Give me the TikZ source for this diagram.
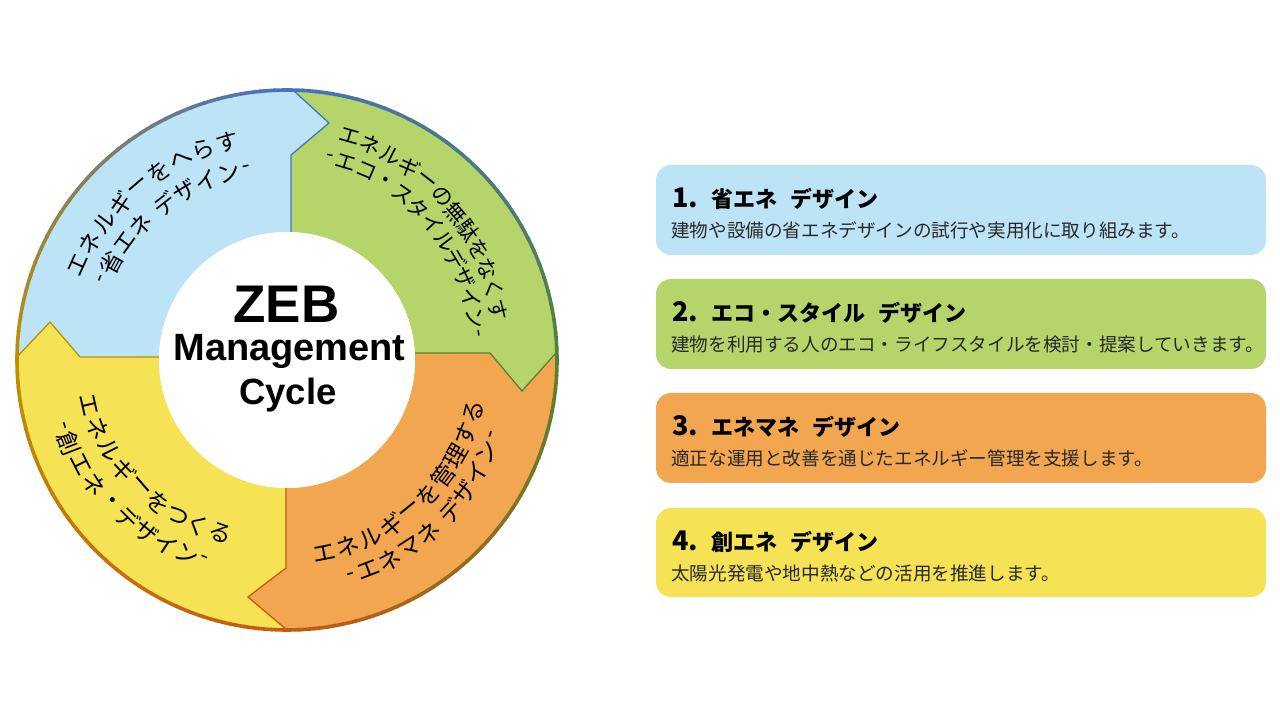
\documentclass[tikz,border=0pt]{standalone}
\usepackage{fontspec}
\newfontfamily\jp{Noto Sans CJK JP}
\newfontfamily\ls{Liberation Sans}
\definecolor{lblue}{RGB}{189,227,247}
\definecolor{lgreen}{RGB}{181,213,107}
\definecolor{lorange}{RGB}{243,166,80}
\definecolor{lyellow}{RGB}{245,226,85}
\definecolor{dblue}{RGB}{68,114,196}
\definecolor{dgreen}{RGB}{84,130,53}
\definecolor{dorange}{RGB}{197,90,17}
\definecolor{dgold}{RGB}{191,144,0}
\definecolor{desc}{RGB}{40,40,40}
\tikzset{
  ringtext/.style={inner sep=0pt, text=black},
  edgeline/.style={line width=1.3pt, line join=miter},
  card/.style={rounded corners=15pt},
  cardnum/.style={anchor=base west, inner sep=0pt, font=\jp\bfseries\fontsize{27}{27}\selectfont},
  cardtitle/.style={anchor=base west, inner sep=0pt, font=\jp\bfseries\fontsize{22}{22}\selectfont},
  carddesc/.style={anchor=base west, inner sep=0pt, text=desc, font=\jp\fontsize{18.6}{18.6}\selectfont},
  hubtext/.style={anchor=base, inner sep=0pt}
}
\newcommand\tgap{\hspace{0.6em}}
% #1 name prefix, #2 font size, #3 start angle, #4 deg per em, #5 start radius,
% #6 radius change per em, #7 rotation offset, #8 items char/width (negative width = gap)
\newcommand\arcline[8]{%
  \gdef\cumpos{0}%
  \foreach \c/\w [count=\k] in {#8} {%
    \ifdim\w pt<0pt
      \pgfmathsetmacro\nxt{\cumpos-\w}%
    \else
      \pgfmathsetmacro\mid{\cumpos+\w/2}%
      \pgfmathsetmacro\ang{#3+(#4)*\mid}%
      \pgfmathsetmacro\rad{#5+(#6)*\mid}%
      \pgfmathsetmacro\rot{\ang+(#7)}%
      \node[ringtext, font=\jp\fontsize{#2}{#2}\selectfont, rotate=\rot] (#1-\k) at (\ang:\rad) {\c};%
      \pgfmathsetmacro\nxt{\cumpos+\w}%
    \fi
    \xdef\cumpos{\nxt}%
  }%
}
\begin{document}
\begin{tikzpicture}[x=1pt,y=1pt]
\useasboundingbox (0,0) rectangle (1280,720);
\fill[white] (0,0) rectangle (1280,720);

\begin{scope}[shift={(287,360)}]
  % segments
  \fill[lblue] (179.36:270) arc[start angle=179.36, end angle=88.73, radius=270]
     -- (42,237) -- (4,205) -- (88.21:128) arc[start angle=88.21, end angle=178.66, radius=128]
     -- (-207,3) -- (-237,38) -- cycle;
  \fill[lgreen] (88.73:270) arc[start angle=88.73, end angle=1.70, radius=270]
     -- (235,-31) -- (203,7) -- (3.13:128) arc[start angle=3.13, end angle=88.21, radius=128]
     -- (4,205) -- (42,237) -- cycle;
  \fill[lorange] (1.70:270) arc[start angle=1.70, end angle=-90, radius=270]
     -- (-39,-237) -- (-1,-208) -- (-90.45:128) arc[start angle=-90.45, end angle=3.13, radius=128]
     -- (203,7) -- (235,-31) -- cycle;
  \fill[lyellow] (-90:270) arc[start angle=-90, end angle=-180.64, radius=270]
     -- (-237,38) -- (-207,3) -- (-181.34:128) arc[start angle=-181.34, end angle=-90.45, radius=128]
     -- (-1,-208) -- (-39,-237) -- cycle;
  % arrow edges
  \draw[edgeline, dblue] (88.21:128) -- (4,205) -- (42,237) -- (88.73:270);
  \draw[edgeline, dgreen] (3.13:128) -- (203,7) -- (235,-31) -- (1.70:270);
  \draw[edgeline, dorange] (-90.45:128) -- (-1,-208) -- (-39,-237) -- (-90:270);
  \draw[edgeline, dgold] (178.66:128) -- (-207,3) -- (-237,38) -- (179.36:270);
  % gradient outer border
  \foreach \a/\ca/\cb in {90/dblue/dgreen, 0/dgreen/dorange, -90/dorange/dgold, -180/dgold/dblue} {
    \foreach \i in {0,...,29} {
      \pgfmathtruncatemacro\p{100-(\i+0.5)*100/30}
      \pgfmathsetmacro\sa{\a-3*\i}
      \pgfmathsetmacro\ea{\a-3*\i-3.4}
      \draw[line width=3.6pt, color=\ca!\p!\cb] (\sa:270) arc[start angle=\sa, end angle=\ea, radius=270];
    }
  }
  % hub
  \node[circle, fill=white, minimum size=256pt, inner sep=0pt] (hub) at (0,0) {};
  \node[hubtext, font=\ls\bfseries\fontsize{53}{53}\selectfont] (zeb) at (-0.5,37) {ZEB};
  \node[hubtext, font=\ls\bfseries\fontsize{38}{38}\selectfont] (mgmt) at (2.5,-1) {Management};
  \node[hubtext, font=\ls\bfseries\fontsize{36.5}{36.5}\selectfont] (cyc) at (1,-45) {Cycle};

  % ring texts
  \arcline{bA}{23}{158.74}{-6.275}{229.8}{-0.45}{-90}{エ/1,ネ/1,ル/1,ギ/1,ー/1,を/1,へ/1,ら/1,す/1}
  \arcline{bB}{23}{158.0}{-6.95}{201.2}{-0.8}{-90}{-/0.5,省/1,エ/1,ネ/1,x/-0.3,デ/1,ザ/1,イ/1,ン/1,-/0.5}
  \arcline{gA}{21.5}{76.97}{-5.536}{232.7}{-1.364}{-90}{エ/1,ネ/1,ル/1,ギ/1,ー/1,の/1,無/1,駄/1,を/1,な/1,く/1,す/1}
  \arcline{gB}{21.5}{79.52}{-6.087}{207.3}{-1.339}{-90}{-/0.5,エ/1,コ/1,・/1,ス/1,タ/1,イ/1,ル/1,デ/1,ザ/1,イ/1,ン/1,-/0.5}
  \arcline{oA}{23.5}{-82.42}{7.044}{197.2}{-0.411}{90}{エ/1,ネ/1,ル/1,ギ/1,ー/1,を/1,管/1,理/1,す/1,る/1}
  \arcline{oB}{23.5}{-74.88}{6.05}{226.2}{-0.7}{90}{-/0.5,エ/1,ネ/1,マ/1,ネ/1,x/-0.3,デ/1,ザ/1,イ/1,ン/1,-/0.5}
  \arcline{yA}{23.5}{189.29}{7.0125}{204.8}{-2.2375}{90}{エ/1,ネ/1,ル/1,ギ/1,ー/1,を/1,つ/1,く/1,る/1}
  \arcline{yB}{23.5}{195.0}{5.976}{235.5}{-2.141}{90}{-/0.5,創/1,エ/1,ネ/1,・/1,デ/1,ザ/1,イ/1,ン/1,-/0.5}
\end{scope}

% cards
\fill[card, lblue]   (656,555) rectangle (1266,465);
\fill[card, lgreen]  (656,441) rectangle (1266,351);
\fill[card, lorange] (656,327) rectangle (1266,237);
\fill[card, lyellow] (656,212) rectangle (1266,123);

\node[cardnum] (n1) at (672,512) {1.};
\node[cardtitle] (t1) at (711,512) {省エネ\tgap デザイン};
\node[carddesc] (d1) at (671,482) {建物や設備の省エネデザインの試行や実用化に取り組みます。};

\node[cardnum] (n2) at (672,398) {2.};
\node[cardtitle] (t2) at (711,398) {エコ・スタイル\tgap デザイン};
\node[carddesc] (d2) at (671,368) {建物を利用する人のエコ・ライフスタイルを検討・提案していきます。};

\node[cardnum] (n3) at (672,284) {3.};
\node[cardtitle] (t3) at (711,284) {エネマネ\tgap デザイン};
\node[carddesc] (d3) at (671,254) {適正な運用と改善を通じたエネルギー管理を支援します。};

\node[cardnum] (n4) at (672,169) {4.};
\node[cardtitle] (t4) at (711,169) {創エネ\tgap デザイン};
\node[carddesc] (d4) at (671,139) {太陽光発電や地中熱などの活用を推進します。};
\end{tikzpicture}
\end{document}
